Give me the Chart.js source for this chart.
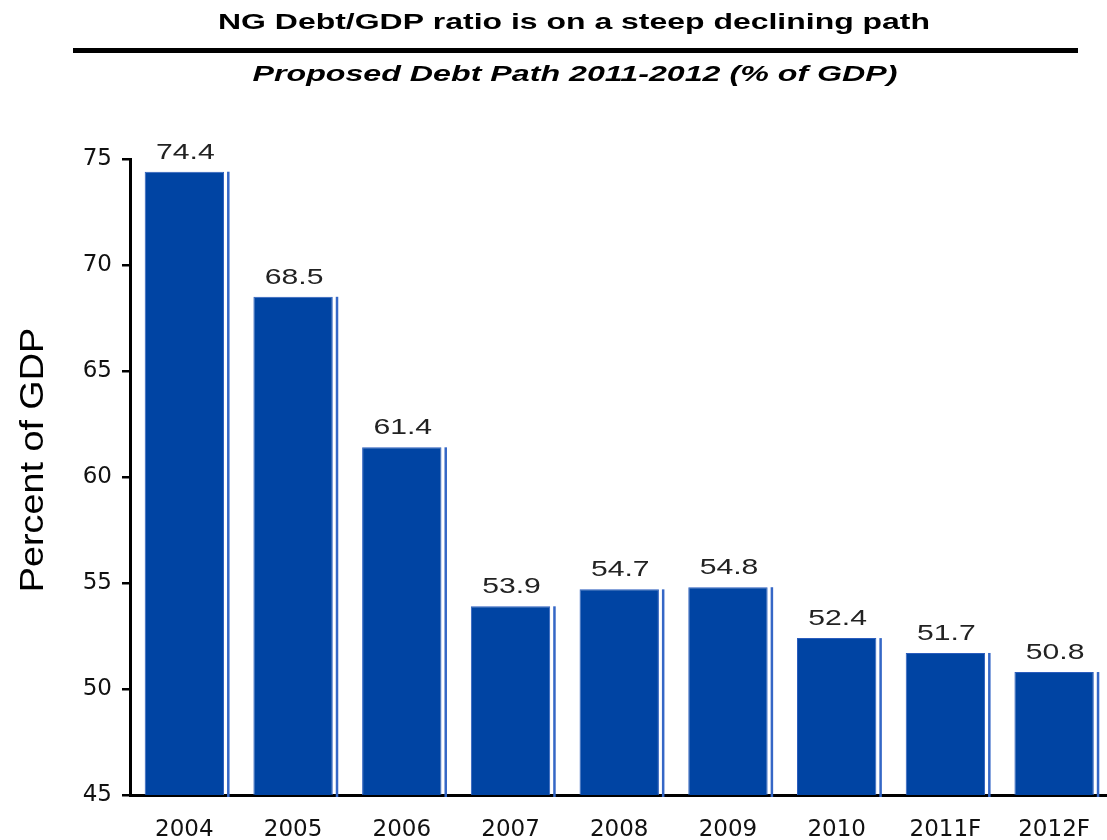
<!DOCTYPE html>
<html>
<head>
<meta charset="utf-8">
<title>NG Debt/GDP ratio</title>
<script src="https://cdn.jsdelivr.net/npm/chart.js@4/dist/chart.umd.min.js"></script>
<style>
  html, body { margin: 0; padding: 0; background: #fff; overflow: hidden; width: 1107px; height: 840px; }
</style>
</head>
<body>
<canvas id="debt-chart" width="1111" height="840"></canvas>
<script>
var years = ["2004", "2005", "2006", "2007", "2008", "2009", "2010", "2011F", "2012F"];
var debtRatio = [74.4, 68.5, 61.4, 53.9, 54.7, 54.8, 52.4, 51.7, 50.8];
var yTicks = [45, 50, 55, 60, 65, 70, 75];

var chartTitle = "NG Debt/GDP ratio is on a steep declining path";
var chartSubtitle = "Proposed Debt Path 2011-2012 (% of GDP)";
var yAxisTitle = "Percent of GDP";

// the slide text is drawn wider than the font, so stretch it horizontally
function wideText(ctx, text, x, y, font, sx) {
  ctx.save();
  ctx.font = font;
  ctx.translate(x, y);
  ctx.scale(sx, 1);
  ctx.fillText(text, 0, 0);
  ctx.restore();
}

// same, but stretched to a given width
function fitText(ctx, text, x, y, font, width) {
  ctx.font = font;
  wideText(ctx, text, x, y, font, width / ctx.measureText(text).width);
}

var barTrim = {
  id: "barTrim",
  afterDatasetsDraw: function (chart) {
    var ctx = chart.ctx;
    var meta = chart.getDatasetMeta(0);
    var bottom = chart.scales.y.getPixelForValue(chart.scales.y.min);
    ctx.save();
    ctx.textAlign = "center";
    ctx.textBaseline = "alphabetic";
    meta.data.forEach(function (bar, i) {
      var right = bar.x + bar.width / 2;
      ctx.fillStyle = "#3567c6";
      ctx.fillRect(right + 3, bar.y, 2.5, bottom - bar.y + 2);
      ctx.fillStyle = "#222";
      wideText(ctx, debtRatio[i].toFixed(1), bar.x + 1, bar.y - 13, "22px 'Liberation Sans'", 1.37);
    });
    ctx.restore();
  }
};

var slideText = {
  id: "slideText",
  afterDraw: function (chart) {
    var ctx = chart.ctx;
    ctx.save();
    ctx.fillStyle = "#000";
    ctx.textAlign = "center";
    ctx.textBaseline = "alphabetic";
    fitText(ctx, chartTitle, 574, 29, "bold 22px 'Liberation Sans Narrow', 'Liberation Sans'", 712);
    ctx.fillRect(73, 48, 1005, 5);
    fitText(ctx, chartSubtitle, 575, 81, "italic bold 22px 'Liberation Sans Narrow', 'Liberation Sans'", 645);
    ctx.translate(43, 460);
    ctx.rotate(-Math.PI / 2);
    wideText(ctx, yAxisTitle, 0, 0, "34px 'Liberation Sans'", 1.11);
    ctx.restore();
  }
};

var ctx = document.getElementById("debt-chart").getContext("2d");
new Chart(ctx, {
  type: "bar",
  data: {
    labels: years,
    datasets: [
      {
        data: debtRatio,
        backgroundColor: "#0044a3",
        borderColor: "#2b5dbd",
        borderWidth: 1,
        barPercentage: 0.73,
        categoryPercentage: 1,
      },
    ],
  },
  options: {
    responsive: false,
    animation: false,
    layout: { padding: { top: 159, right: 0, bottom: 0, left: 0 } },
    plugins: {
      legend: { display: false },
      tooltip: { enabled: false },
      title: { display: false },
    },
    scales: {
      x: {
        z: 1,
        grid: { display: false, drawTicks: false },
        border: { color: "#000", width: 3 },
        ticks: {
          color: "#111",
          padding: 21,
          maxRotation: 0,
          autoSkip: false,
          font: { family: "'DejaVu Sans'", size: 23 },
        },
        afterFit: function (scale) {
          scale.height = 45;
        },
      },
      y: {
        z: 1,
        min: 45,
        max: 75,
        afterBuildTicks: function (scale) {
          scale.ticks = yTicks.map(function (v) { return { value: v }; });
        },
        grid: { drawOnChartArea: false, color: "#000", lineWidth: 2.5, tickLength: 8 },
        border: { color: "#000", width: 3 },
        ticks: {
          color: "#111",
          padding: 10,
          font: { family: "'DejaVu Sans'", size: 23 },
        },
        afterFit: function (scale) {
          scale.width = 130;
        },
      },
    },
  },
  plugins: [barTrim, slideText],
});
</script>
</body>
</html>
